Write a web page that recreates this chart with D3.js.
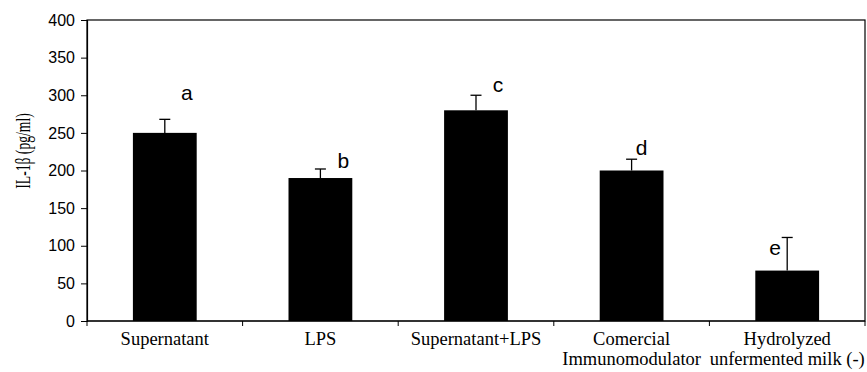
<!DOCTYPE html>
<html lang="en">
<head>
    <meta charset="UTF-8">
    <title>IL-1b</title>
    <script src="https://d3js.org/d3.v7.min.js"></script>
    <style>
        body { margin: 0; background: #fff; }
    </style>
</head>
<body>
<script>
    const categories = [
        ["Supernatant"],
        ["LPS"],
        ["Supernatant+LPS"],
        ["Comercial", "Immunomodulator"],
        ["Hydrolyzed", "unfermented milk (-)"]
    ];
    const values = [250, 190, 280, 200, 67];
    const errors = [18, 12, 20, 15, 44];
    const letters = ["a", "b", "c", "d", "e"];
    const letterValues = [294, 203, 304, 220, 88];
    const letterDx = [22, 23, 22, 10, -12];
    const yTicks = [0, 50, 100, 150, 200, 250, 300, 350, 400];

    const width = 867, height = 372;
    const margin = {top: 20, right: 2, bottom: 51, left: 87};

    const svg = d3.select("body").append("svg")
        .attr("width", width)
        .attr("height", height);

    const x = d3.scaleBand()
        .domain(d3.range(categories.length))
        .range([margin.left, width - margin.right])
        .paddingInner(0.59)
        .paddingOuter(0.295);

    const y = d3.scaleLinear()
        .domain([0, 400])
        .range([height - margin.bottom, margin.top]);

    // frame
    svg.append("rect")
        .attr("x", margin.left)
        .attr("y", margin.top)
        .attr("width", width - margin.right - margin.left)
        .attr("height", y(0) - margin.top)
        .attr("fill", "none")
        .attr("stroke", "#000")
        .attr("stroke-width", 1.2);

    // y axis
    const yAxis = svg.append("g")
        .attr("transform", `translate(${margin.left},0)`)
        .call(d3.axisLeft(y).tickValues(yTicks).tickSize(6).tickPadding(6));
    yAxis.attr("font-size", null).attr("font-family", null);
    yAxis.select(".domain").attr("stroke-width", 1.2);
    yAxis.selectAll("text")
        .style("font-family", "'Liberation Sans', Arial, sans-serif")
        .style("font-size", "16px")
        .attr("fill", "#000");

    // x axis: ticks at band edges
    const step = x.step();
    const edges = d3.range(categories.length + 1).map(i => margin.left + i * step);
    svg.append("line")
        .attr("x1", margin.left).attr("x2", width - margin.right)
        .attr("y1", y(0)).attr("y2", y(0))
        .attr("stroke", "#000").attr("stroke-width", 1.2);
    svg.selectAll(".xtick")
        .data(edges).join("line")
        .attr("x1", d => d).attr("x2", d => d)
        .attr("y1", y(0)).attr("y2", y(0) + 5)
        .attr("stroke", "#000");

    svg.selectAll(".xlabel")
        .data(categories).join("text")
        .attr("text-anchor", "middle")
        .style("font-family", "'Liberation Serif', 'Times New Roman', serif")
        .style("font-size", "18.5px")
        .attr("fill", "#000")
        .each(function(d, i) {
            d3.select(this).selectAll("tspan")
                .data(d).join("tspan")
                .attr("x", x(i) + x.bandwidth() / 2)
                .attr("y", (t, j) => 345 + j * 20)
                .text(t => t);
        });

    // bars
    svg.selectAll(".bar")
        .data(values).join("rect")
        .attr("x", (d, i) => x(i))
        .attr("y", d => y(d))
        .attr("width", x.bandwidth())
        .attr("height", d => y(0) - y(d))
        .attr("fill", "#000");

    // error bars (upper only)
    const eb = svg.selectAll(".err")
        .data(values).join("g")
        .attr("stroke", "#000")
        .attr("stroke-width", 1.3);
    eb.append("line")
        .attr("x1", (d, i) => x(i) + x.bandwidth() / 2)
        .attr("x2", (d, i) => x(i) + x.bandwidth() / 2)
        .attr("y1", d => y(d))
        .attr("y2", (d, i) => y(d + errors[i]));
    eb.append("line")
        .attr("x1", (d, i) => x(i) + x.bandwidth() / 2 - 5.5)
        .attr("x2", (d, i) => x(i) + x.bandwidth() / 2 + 5.5)
        .attr("y1", (d, i) => y(d + errors[i]))
        .attr("y2", (d, i) => y(d + errors[i]));

    // significance letters
    svg.selectAll(".letter")
        .data(letters).join("text")
        .attr("x", (d, i) => x(i) + x.bandwidth() / 2 + letterDx[i])
        .attr("y", (d, i) => y(letterValues[i]))
        .attr("text-anchor", "middle")
        .style("font-family", "'Liberation Sans', Arial, sans-serif")
        .style("font-size", "21px")
        .attr("fill", "#000")
        .text(d => d);

    // y title
    svg.append("text")
        .attr("transform", "translate(30,151) rotate(-90) scale(0.62,1)")
        .attr("text-anchor", "middle")
        .style("font-family", "'Liberation Serif', 'Times New Roman', serif")
        .style("font-size", "22px")
        .attr("fill", "#000")
        .text("IL-1β (pg/ml)");
</script>
</body>
</html>
